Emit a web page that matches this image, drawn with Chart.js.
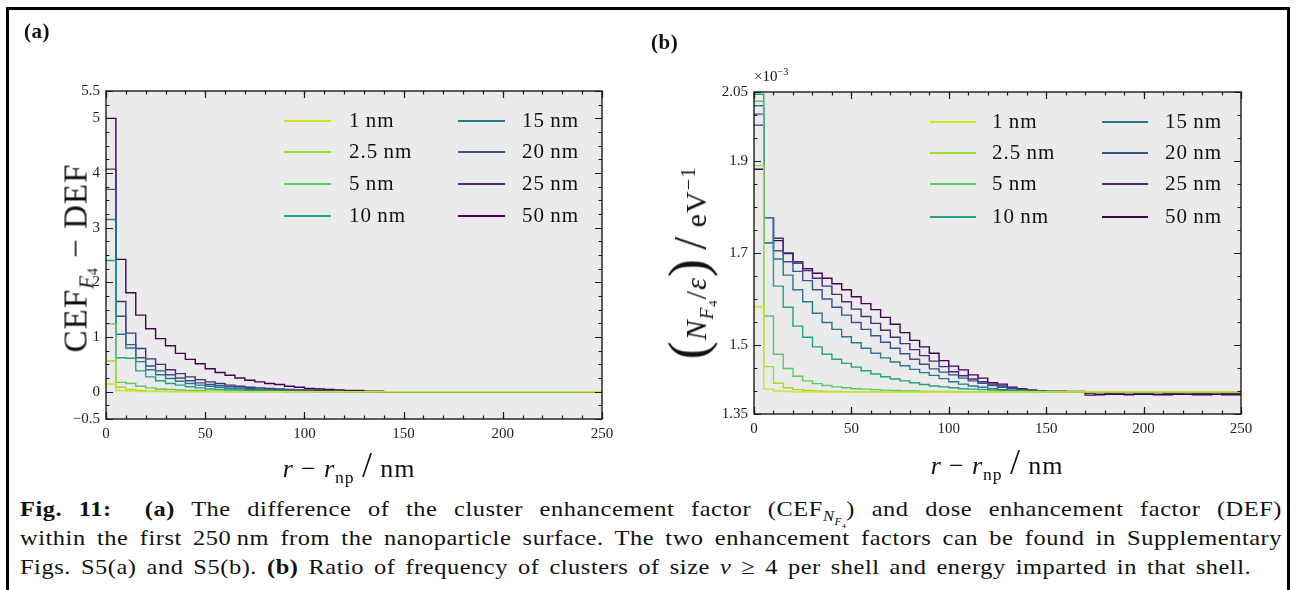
<!DOCTYPE html>
<html>
<head>
<meta charset="utf-8">
<script src="https://cdn.jsdelivr.net/npm/chart.js@4.4.1/dist/chart.umd.min.js"></script>
<style>
  body { margin: 0; background: #fff; font-family: "Liberation Serif", serif; color: #111; }
  #page { position: relative; width: 1296px; height: 590px; overflow: hidden; }
  #border { position: absolute; left: 6px; top: 7px; width: 1284px; height: 620px; border: 3px solid #000; box-sizing: border-box; }
  canvas { position: absolute; top: 0; }
  .abs { position: absolute; white-space: nowrap; }
  .panel { font-weight: bold; font-size: 21px; letter-spacing: 0.5px; }
  .ytitle { transform: translate(-50%, -50%) rotate(-90deg); letter-spacing: 1px; }
  .xtitle { transform: translate(-50%, -50%); font-size: 26px; letter-spacing: 0.9px; }
  .legend { font-size: 21px; letter-spacing: 1px; }
  .legend .row { position: absolute; height: 20px; }
  .legend .swatch { position: absolute; top: 9px; height: 0; border-top: 2px solid; }
  .legend .lab { position: absolute; top: -1px; line-height: 20px; }
  .caption { left: 20px; width: 1138px; font-size: 22px; letter-spacing: 0.5px; word-spacing: 3px; transform: scaleX(1.109); transform-origin: 0 0; }
  .caption div { height: 29px; line-height: 29px; white-space: nowrap; }
  .caption .j { text-align: justify; text-align-last: justify; }
  sub, sup { font-size: 68%; line-height: 0; }
</style>
</head>
<body>
<div id="page">
  <div id="border"></div>
  <canvas id="chartA" width="640" height="480" style="left:0"></canvas>
  <canvas id="chartB" width="656" height="480" style="left:640px"></canvas>

  <div class="abs panel" style="left:24px; top:19px">(a)</div>
  <div class="abs panel" style="left:651px; top:30px">(b)</div>
  <div class="abs" style="left:754px; top:68px; font-size:15px">×10<sup>−3</sup></div>

  <div class="abs ytitle" style="left:76px; top:258px; font-size:33px">CEF<span style="font-size:21px; position:relative; top:7px"><i>F</i><span style="font-size:14px; position:relative; top:4px">4</span></span> − DEF</div>
  <div class="abs xtitle" style="left:349px; top:465px"><i>r</i> − <i>r</i><sub>np</sub> <span style="font-size:36px">/</span> nm</div>

  <div class="abs ytitle" style="left:688px; top:263px; font-size:30px"><span style="font-size:54px">(</span><i>N</i><span style="font-size:19px; position:relative; top:7px"><i>F</i><span style="font-size:13px; position:relative; top:4px">4</span></span>/<i>ε</i><span style="font-size:54px">)</span> <span style="font-size:46px">/</span> eV<sup>−1</sup></div>
  <div class="abs xtitle" style="left:997px; top:462px"><i>r</i> − <i>r</i><sub>np</sub> <span style="font-size:36px">/</span> nm</div>

  <div id="legendA" class="abs legend" style="left:0; top:0"></div>
  <div id="legendB" class="abs legend" style="left:0; top:0"></div>

  <div class="abs caption" style="top:494px">
    <div class="j"><b>Fig. 11:</b>&nbsp; <b>(a)</b> The difference of the cluster enhancement factor (CEF<sub><i>N</i><sub><i>F</i><sub>4</sub></sub></sub>) and dose enhancement factor (DEF)</div>
    <div class="j">within the first 250&#8201;nm from the nanoparticle surface. The two enhancement factors can be found in Supplementary</div>
    <div>Figs. S5(a) and S5(b). <b>(b)</b> Ratio of frequency of clusters of size <i>ν</i> ≥ 4 per shell and energy imparted in that shell.</div>
  </div>
</div>

<script>
// shell bins: 5 nm wide, 0-250 nm from the surface
const binWidth = 5;
const rMax = 250;
const radii = ["1\u2009nm", "2.5\u2009nm", "5\u2009nm", "10\u2009nm", "15\u2009nm", "20\u2009nm", "25\u2009nm", "50\u2009nm"];
const colors = ["#d2e21b", "#a2da37", "#5cc863", "#20a386", "#2a788e", "#3b528b", "#472d7b", "#440154"];

// (a) CEF_F4 - DEF per shell
const diff1 = [0.14, 0.02, 0.01, 0, 0, 0, 0, 0, 0, 0, 0, 0, 0, 0, 0, 0, 0, 0, 0, 0, 0, 0, 0, 0, 0, 0, 0, 0, 0, 0, 0, 0, 0, 0, 0, 0, 0, 0, 0, 0, 0, 0, 0, 0, 0, 0, 0, 0, 0, 0];
const diff2p5 = [0.56, 0.08, 0.04, 0.02, 0.01, 0.01, 0, 0, 0, 0, 0, 0, 0, 0, 0, 0, 0, 0, 0, 0, 0, 0, 0, 0, 0, 0, 0, 0, 0, 0, 0, 0, 0, 0, 0, 0, 0, 0, 0, 0, 0, 0, 0, 0, 0, 0, 0, 0, 0, 0];
const diff5 = [1.24, 0.17, 0.15, 0.10, 0.07, 0.05, 0.04, 0.03, 0.02, 0.02, 0.01, 0.01, 0, 0, 0, 0, 0, 0, 0, 0, 0, 0, 0, 0, 0, 0, 0, 0, 0, 0, 0, 0, 0, 0, 0, 0, 0, 0, 0, 0, 0, 0, 0, 0, 0, 0, 0, 0, 0, 0];
const diff10 = [2.40, 0.62, 0.61, 0.38, 0.27, 0.20, 0.15, 0.12, 0.09, 0.07, 0.05, 0.04, 0.03, 0.03, 0.02, 0.02, 0.01, 0.01, 0, 0, 0, 0, 0, 0, 0, 0, 0, 0, 0, 0, 0, 0, 0, 0, 0, 0, 0, 0, 0, 0, 0, 0, 0, 0, 0, 0, 0, 0, 0, 0];
const diff15 = [3.15, 1.05, 0.80, 0.55, 0.40, 0.31, 0.24, 0.19, 0.15, 0.12, 0.10, 0.08, 0.06, 0.05, 0.04, 0.03, 0.03, 0.02, 0.02, 0.01, 0.01, 0, 0, 0, 0, 0, 0, 0, 0, 0, 0, 0, 0, 0, 0, 0, 0, 0, 0, 0, 0, 0, 0, 0, 0, 0, 0, 0, 0, 0];
const diff20 = [3.70, 1.38, 0.86, 0.62, 0.47, 0.38, 0.31, 0.25, 0.20, 0.16, 0.13, 0.11, 0.09, 0.07, 0.06, 0.05, 0.04, 0.03, 0.03, 0.02, 0.02, 0.01, 0.01, 0.01, 0, 0, 0, 0, 0, 0, 0, 0, 0, 0, 0, 0, 0, 0, 0, 0, 0, 0, 0, 0, 0, 0, 0, 0, 0, 0];
const diff25 = [4.07, 1.65, 1.07, 0.79, 0.60, 0.50, 0.40, 0.33, 0.27, 0.22, 0.18, 0.15, 0.12, 0.10, 0.08, 0.07, 0.06, 0.05, 0.04, 0.03, 0.03, 0.02, 0.02, 0.01, 0.01, 0.01, 0, 0, 0, 0, 0, 0, 0, 0, 0, 0, 0, 0, 0, 0, 0, 0, 0, 0, 0, 0, 0, 0, 0, 0];
const diff50 = [5.00, 2.42, 1.81, 1.40, 1.15, 0.97, 0.84, 0.70, 0.59, 0.51, 0.42, 0.35, 0.30, 0.25, 0.21, 0.18, 0.15, 0.13, 0.10, 0.08, 0.06, 0.05, 0.04, 0.03, 0.02, 0.02, 0.01, 0.01, 0, 0, 0, 0, 0, 0, 0, 0, 0, 0, 0, 0, 0, 0, 0, 0, 0, 0, 0, 0, 0, 0];

// (b) N_F4 / epsilon per shell, in units of 1e-3 eV^-1
const ratio1 = [1.583, 1.404, 1.400, 1.399, 1.398, 1.398, 1.398, 1.398, 1.398, 1.398, 1.398, 1.398, 1.398, 1.398, 1.398, 1.398, 1.398, 1.398, 1.398, 1.398, 1.398, 1.398, 1.398, 1.398, 1.398, 1.398, 1.398, 1.398, 1.398, 1.398, 1.398, 1.398, 1.398, 1.398, 1.398, 1.398, 1.398, 1.398, 1.398, 1.398, 1.398, 1.398, 1.398, 1.398, 1.398, 1.398, 1.398, 1.398, 1.398, 1.398];
const ratio2p5 = [1.890, 1.453, 1.417, 1.407, 1.403, 1.401, 1.400, 1.399, 1.399, 1.398, 1.398, 1.398, 1.398, 1.398, 1.398, 1.398, 1.398, 1.398, 1.398, 1.398, 1.398, 1.398, 1.398, 1.398, 1.398, 1.398, 1.398, 1.398, 1.398, 1.398, 1.398, 1.398, 1.398, 1.398, 1.398, 1.398, 1.398, 1.398, 1.398, 1.398, 1.398, 1.398, 1.398, 1.398, 1.398, 1.398, 1.398, 1.398, 1.398, 1.398];
const ratio5 = [2.030, 1.563, 1.480, 1.449, 1.432, 1.422, 1.416, 1.412, 1.409, 1.407, 1.405, 1.404, 1.403, 1.402, 1.401, 1.400, 1.400, 1.399, 1.399, 1.399, 1.398, 1.398, 1.398, 1.398, 1.398, 1.398, 1.398, 1.398, 1.398, 1.398, 1.398, 1.398, 1.398, 1.398, 1.398, 1.398, 1.398, 1.398, 1.398, 1.398, 1.398, 1.398, 1.398, 1.398, 1.398, 1.398, 1.398, 1.398, 1.398, 1.398];
const ratio10 = [2.045, 1.722, 1.628, 1.582, 1.541, 1.517, 1.496, 1.480, 1.469, 1.460, 1.452, 1.444, 1.437, 1.431, 1.426, 1.422, 1.418, 1.414, 1.411, 1.409, 1.407, 1.405, 1.404, 1.403, 1.402, 1.401, 1.400, 1.400, 1.399, 1.399, 1.398, 1.398, 1.398, 1.398, 1.398, 1.398, 1.398, 1.398, 1.398, 1.398, 1.398, 1.398, 1.398, 1.398, 1.398, 1.398, 1.398, 1.398, 1.398, 1.398];
const ratio15 = [2.020, 1.777, 1.687, 1.652, 1.620, 1.594, 1.569, 1.549, 1.534, 1.518, 1.505, 1.493, 1.482, 1.472, 1.463, 1.455, 1.447, 1.440, 1.434, 1.427, 1.420, 1.415, 1.411, 1.408, 1.405, 1.403, 1.401, 1.400, 1.399, 1.399, 1.398, 1.398, 1.398, 1.398, 1.398, 1.398, 1.398, 1.398, 1.398, 1.398, 1.398, 1.398, 1.398, 1.398, 1.398, 1.398, 1.398, 1.398, 1.398, 1.398];
const ratio20 = [2.002, 1.777, 1.705, 1.681, 1.660, 1.640, 1.620, 1.600, 1.582, 1.565, 1.549, 1.534, 1.520, 1.506, 1.493, 1.481, 1.469, 1.458, 1.448, 1.441, 1.435, 1.428, 1.422, 1.417, 1.412, 1.408, 1.405, 1.403, 1.401, 1.400, 1.399, 1.399, 1.398, 1.398, 1.397, 1.397, 1.397, 1.397, 1.397, 1.397, 1.397, 1.397, 1.397, 1.397, 1.397, 1.397, 1.397, 1.397, 1.397, 1.397];
const ratio25 = [1.978, 1.777, 1.732, 1.700, 1.681, 1.662, 1.645, 1.628, 1.610, 1.594, 1.578, 1.562, 1.547, 1.532, 1.517, 1.503, 1.490, 1.477, 1.465, 1.453, 1.442, 1.433, 1.426, 1.420, 1.415, 1.411, 1.407, 1.404, 1.402, 1.400, 1.399, 1.399, 1.398, 1.397, 1.395, 1.396, 1.395, 1.395, 1.396, 1.395, 1.395, 1.396, 1.395, 1.395, 1.396, 1.395, 1.395, 1.396, 1.395, 1.395];
const ratio50 = [1.882, 1.722, 1.727, 1.699, 1.678, 1.666, 1.656, 1.645, 1.633, 1.620, 1.605, 1.590, 1.577, 1.560, 1.545, 1.527, 1.510, 1.496, 1.482, 1.466, 1.454, 1.446, 1.435, 1.428, 1.418, 1.415, 1.408, 1.405, 1.402, 1.400, 1.399, 1.399, 1.399, 1.399, 1.391, 1.392, 1.393, 1.393, 1.392, 1.393, 1.393, 1.392, 1.392, 1.393, 1.393, 1.392, 1.392, 1.393, 1.392, 1.392];

const xTickLabels = [0, 50, 100, 150, 200, 250];
const yTickLabelsA = [-0.5, 0, 1, 2, 3, 4, 5, 5.5];
const yTickLabelsB = [1.35, 1.5, 1.7, 1.9, 2.05];

const seriesA = [diff1, diff2p5, diff5, diff10, diff15, diff20, diff25, diff50];
const seriesB = [ratio1, ratio2p5, ratio5, ratio10, ratio15, ratio20, ratio25, ratio50];

// value i covers the shell [i*binWidth, (i+1)*binWidth]; one point per left edge plus the closing edge
function stepPoints(values) {
  const pts = values.map((v, i) => ({ x: i * binWidth, y: v }));
  pts.push({ x: rMax, y: values[values.length - 1] });
  return pts;
}

function range(a, b, step) {
  const out = [];
  for (let v = a; v <= b + 1e-9; v += step) out.push(Math.round(v * 1000) / 1000);
  return out;
}

// grey plot background, black frame, inward ticks on all four sides
const framePlugin = {
  id: "frame",
  beforeDatasetsDraw(chart) {
    const { ctx, chartArea: a } = chart;
    ctx.save();
    ctx.fillStyle = "#ebebeb";
    ctx.fillRect(a.left, a.top, a.right - a.left, a.bottom - a.top);
    ctx.restore();
  },
  afterDraw(chart, args, opts) {
    const { ctx, chartArea: a, scales } = chart;
    ctx.save();
    ctx.strokeStyle = "#1a1a1a";
    ctx.lineWidth = 1.2;
    const xs = (vals, len) => vals.forEach((v) => {
      const px = Math.round(scales.x.getPixelForValue(v)) + 0.5;
      ctx.beginPath();
      ctx.moveTo(px, a.bottom); ctx.lineTo(px, a.bottom - len);
      ctx.moveTo(px, a.top); ctx.lineTo(px, a.top + len);
      ctx.stroke();
    });
    const ys = (vals, len) => vals.forEach((v) => {
      const py = Math.round(scales.y.getPixelForValue(v)) + 0.5;
      ctx.beginPath();
      ctx.moveTo(a.left, py); ctx.lineTo(a.left + len, py);
      ctx.moveTo(a.right, py); ctx.lineTo(a.right - len, py);
      ctx.stroke();
    });
    xs(opts.xMinor, 3.5); xs(opts.xMajor, 7);
    ys(opts.yMinor, 3.5); ys(opts.yMajor, 7);
    ctx.lineWidth = 1.4;
    ctx.strokeRect(a.left, a.top, a.right - a.left, a.bottom - a.top);
    ctx.restore();
  }
};

const tickFont = { family: "'Liberation Serif', serif", size: 15 };

function makeChart(id, series, yMin, yMax, yLabels, yMinor, yWidth, pad, xHeight, fmt) {
  return new Chart(document.getElementById(id), {
    type: "line",
    data: {
      datasets: series.map((vals, i) => ({
        label: radii[i],
        data: stepPoints(vals),
        stepped: "before",
        borderColor: colors[i],
        borderWidth: 1.4,
        pointRadius: 0,
        fill: false
      }))
    },
    options: {
      responsive: false,
      animation: false,
      devicePixelRatio: 1,
      layout: { padding: pad },
      plugins: {
        legend: { display: false },
        tooltip: { enabled: false },
        frame: { xMajor: xTickLabels, xMinor: range(0, rMax, 10), yMajor: yLabels, yMinor: yMinor }
      },
      scales: {
        x: {
          type: "linear", min: 0, max: rMax,
          afterBuildTicks: (s) => { s.ticks = xTickLabels.map((v) => ({ value: v })); },
          afterFit: (s) => { s.height = xHeight; },
          grid: { display: false, drawTicks: false },
          border: { display: false },
          ticks: { font: tickFont, color: "#222", padding: 6, maxRotation: 0 }
        },
        y: {
          type: "linear", min: yMin, max: yMax,
          afterBuildTicks: (s) => { s.ticks = yLabels.map((v) => ({ value: v })); },
          afterFit: (s) => { s.width = yWidth; },
          grid: { display: false, drawTicks: false },
          border: { display: false },
          ticks: { font: tickFont, color: "#222", padding: 6, callback: fmt }
        }
      }
    },
    plugins: [framePlugin]
  });
}

const fmtA = (v) => (v < 0 ? "\u2212" + Math.abs(v) : String(v));
const fmtB = (v) => String(v);

// panel (a): plot area 106..602 x 91..419
makeChart("chartA", seriesA, -0.5, 5.5, yTickLabelsA, range(-0.5, 5.5, 0.25), 106,
  { top: 91, right: 38, left: 0, bottom: 0 }, 61, fmtA);
// panel (b): plot area 754..1241 x 92..414 (canvas offset 640)
makeChart("chartB", seriesB, 1.35, 2.05, yTickLabelsB, range(1.35, 2.05, 0.05), 114,
  { top: 92, right: 55, left: 0, bottom: 0 }, 66, fmtB);

function buildLegend(elId, col1Line, col1Text, col2Line, col2Text, rowTops) {
  const el = document.getElementById(elId);
  radii.forEach((name, i) => {
    const col = i < 4 ? 0 : 1;
    const row = i % 4;
    const lineX = col === 0 ? col1Line : col2Line;
    const textX = col === 0 ? col1Text : col2Text;
    const r = document.createElement("div");
    r.className = "row";
    r.style.top = (rowTops[row] - 10) + "px";
    r.style.left = "0px";
    r.innerHTML = '<div class="swatch" style="left:' + lineX[0] + 'px; width:' + (lineX[1] - lineX[0]) +
      'px; border-color:' + colors[i] + '"></div><div class="lab" style="left:' + textX + 'px">' + name + '</div>';
    el.appendChild(r);
  });
}
buildLegend("legendA", [284, 331], 349, [458, 505], 522, [121, 152, 184, 216]);
buildLegend("legendB", [930, 976], 992, [1102, 1148], 1165, [122, 153, 184, 217]);
</script>
</body>
</html>
